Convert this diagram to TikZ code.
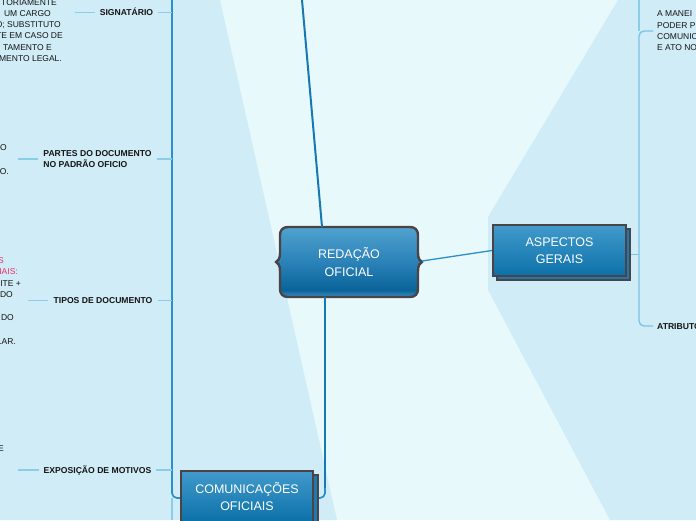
\documentclass[tikz,border=0pt]{standalone}
\usepackage{fontspec}
\setmainfont{Liberation Sans}
\usetikzlibrary{calc}
\definecolor{bgc}{HTML}{E8F9FB}
\definecolor{regc}{HTML}{D0ECF7}
\definecolor{mainln}{HTML}{1679B4}
\definecolor{frameln}{HTML}{2C8FCA}
\definecolor{subln}{HTML}{8ACDEA}
\definecolor{brkln}{HTML}{7CC3E6}
\definecolor{bordc}{HTML}{4A4446}
\definecolor{pinkc}{HTML}{E62E6B}
\definecolor{txtc}{HTML}{151515}
\definecolor{rshb}{HTML}{3D8FC2}
\definecolor{rshd}{HTML}{0A6399}
\definecolor{rshm}{HTML}{2A82B8}
\definecolor{rsht}{HTML}{50A2CE}
\definecolor{btop}{HTML}{429ACB}
\definecolor{bbot}{HTML}{0C71A9}
\definecolor{backc}{HTML}{2178B0}
\pgfdeclareverticalshading{redshade}{100bp}{color(0bp)=(rshb); color(25bp)=(rshb); color(30bp)=(rshd); color(50bp)=(rshm); color(75bp)=(rsht); color(100bp)=(rsht)}
\tikzset{
  mainl/.style={draw=mainln, line width=2pt},
  framel/.style={draw=frameln, line width=1.7pt},
  subl/.style={draw=subln, line width=1.4pt},
  brkl/.style={draw=brkln, line width=1.4pt},
  frag/.style={inner sep=0pt, anchor=east, text=txtc, text height=6.1pt, text depth=0pt, font=\fontsize{8.5}{11.3}\selectfont},
  lbl/.style={inner ysep=0pt, inner xsep=5pt, text=txtc, align=left, font=\bfseries\fontsize{8.6}{11}\selectfont},
  bigtxt/.style={text=white, align=center, font=\fontsize{12.5}{17.3}\selectfont},
  mainbox/.style={bigtxt, draw=bordc, line width=2pt, top color=btop, bottom color=bbot, minimum width=133pt, minimum height=51pt, inner sep=0pt},
  backbox/.style={draw=bordc, line width=2pt, fill=backc, minimum width=133pt, minimum height=51pt, inner sep=0pt}
}
\begin{document}
\begin{tikzpicture}[x=1pt,y=-1pt]
\useasboundingbox (0,0) rectangle (696,520);
\clip (0,0) rectangle (696,520);
% backgrounds
\fill[bgc] (0,0) rectangle (696,520);
\fill[regc] (0,0) -- (220,0) -- (337,520) -- (0,520) -- cycle;
\fill[regc] (618,0) -- (696,0) -- (696,520) -- (610,520) -- (488,290) -- (488,217) -- cycle;

% coordinates
\coordinate (topend) at (302,0);
\coordinate (ftop) at (172,0);
\coordinate (fbl) at (172,498);
\coordinate (fbr) at (325,498);
\coordinate (fbot) at (172,520);
\coordinate (bx) at (639,0);

% central node
\path[shading=redshade, draw=bordc, line width=2.4pt]
 (288,227) -- (410,227) .. controls (415,227) and (418,230) .. (418,235) -- (418,253)
 .. controls (418,259) and (420,261) .. (422,262) .. controls (420,263) and (418,265) .. (418,271)
 -- (418,289) .. controls (418,294) and (415,297) .. (410,297) -- (288,297)
 .. controls (283,297) and (280,294) .. (280,289) -- (280,271)
 .. controls (280,265) and (278,263) .. (276,262) .. controls (278,261) and (280,259) .. (280,253)
 -- (280,235) .. controls (280,230) and (283,227) .. (288,227) -- cycle;
\node[bigtxt, minimum width=138pt, minimum height=70pt, inner sep=0pt] (red) at (349,262) {REDAÇÃO\\OFICIAL};

% main connectors
\draw[mainl] (topend) -- ([xshift=-27pt]red.north);
\draw[mainl] ([xshift=-24pt]red.south) -- (325,494);
\draw[framel, rounded corners=5pt] (ftop) -- (fbl) -- (fbr) -- (325,488);
\draw[subl] (fbl) -- (fbot);

% aspectos gerais
\node[backbox] (aspb) at (563.5,254.5) {};
\node[mainbox] (asp) at (559.5,250.5) {ASPECTOS\\GERAIS};
\draw[draw=frameln, line width=1.3pt] (422,261) -- (asp.west);

% right bracket
\node[inner ysep=0pt, inner xsep=4pt, anchor=west, align=left, text=txtc, font=\fontsize{8.5}{11.4}\selectfont] (rtxt) at (653,31) {A MANEI\\PODER P\\COMUNIC\\E ATO NO};
\node[lbl, inner xsep=4pt, anchor=west, text height=6.1pt, text depth=0pt] (attr) at (653,326) {ATRIBUTOS};
\draw[subl] (bx) -- (rtxt.west -| bx);
\draw[brkl, rounded corners=5pt] (rtxt.west) -- (rtxt.west -| bx) -- (attr.west -| bx) -- (attr.west);
\draw[brkl] (aspb.east) -- (aspb.east -| bx);

% comunicacoes oficiais
\node[backbox] (comb) at (251,500.5) {};
\node[mainbox, minimum width=132pt] (com) at (247,496.5) {COMUNICAÇÕES\\OFICIAIS};

% left labels
\node[lbl, text height=6.1pt, text depth=0pt] (sig) at (126.5,12.3) {SIGNATÁRIO};
\node[lbl] (par) at (97.5,159) {PARTES DO DOCUMENTO\\NO PADRÃO OFICIO};
\node[lbl, text height=6.1pt, text depth=0pt] (tip) at (103,300.7) {TIPOS DE DOCUMENTO};
\node[lbl, text height=6.1pt, text depth=0pt] (exp) at (97.5,470) {EXPOSIÇÃO DE MOTIVOS};
\coordinate (sigL) at (75,12.3);
\coordinate (parL) at (18,159);
\coordinate (tipL) at (28,300.7);
\coordinate (expL) at (18,470);
\foreach \n in {sig,par,tip,exp}{
  \draw[subl] (\n L) -- (\n.west);
  \draw[subl] (\n.east) -- (\n.east -| ftop);
}

% clipped fragments on the left
\node[frag] (f1) at (57,2) {TORIAMENTE};
\node[frag] (f2) at (51,13.3) {UM CARGO};
\node[frag] (f3) at (61,24.6) {O; SUBSTITUTO};
\node[frag] (f4) at (63,35.9) {TE EM CASO DE};
\node[frag] (f5) at (52,47.2) {TAMENTO E};
\node[frag] (f6) at (62,58.5) {MENTO LEGAL.};
\node[frag] (f7) at (7,147) {O};
\node[frag] (f8) at (9,171) {TO.};
\node[frag, text=pinkc] (f9) at (4,260) {S};
\node[frag, text=pinkc] (f10) at (18,271.5) {IAIS:};
\node[frag] (f11) at (21,283) {ITE +};
\node[frag] (f12) at (13,294.5) {DO};
\node[frag] (f13) at (14,317) {DO};
\node[frag] (f14) at (16,341) {LAR.};
\node[frag] (f15) at (4,448) {E};
\end{tikzpicture}
\end{document}
